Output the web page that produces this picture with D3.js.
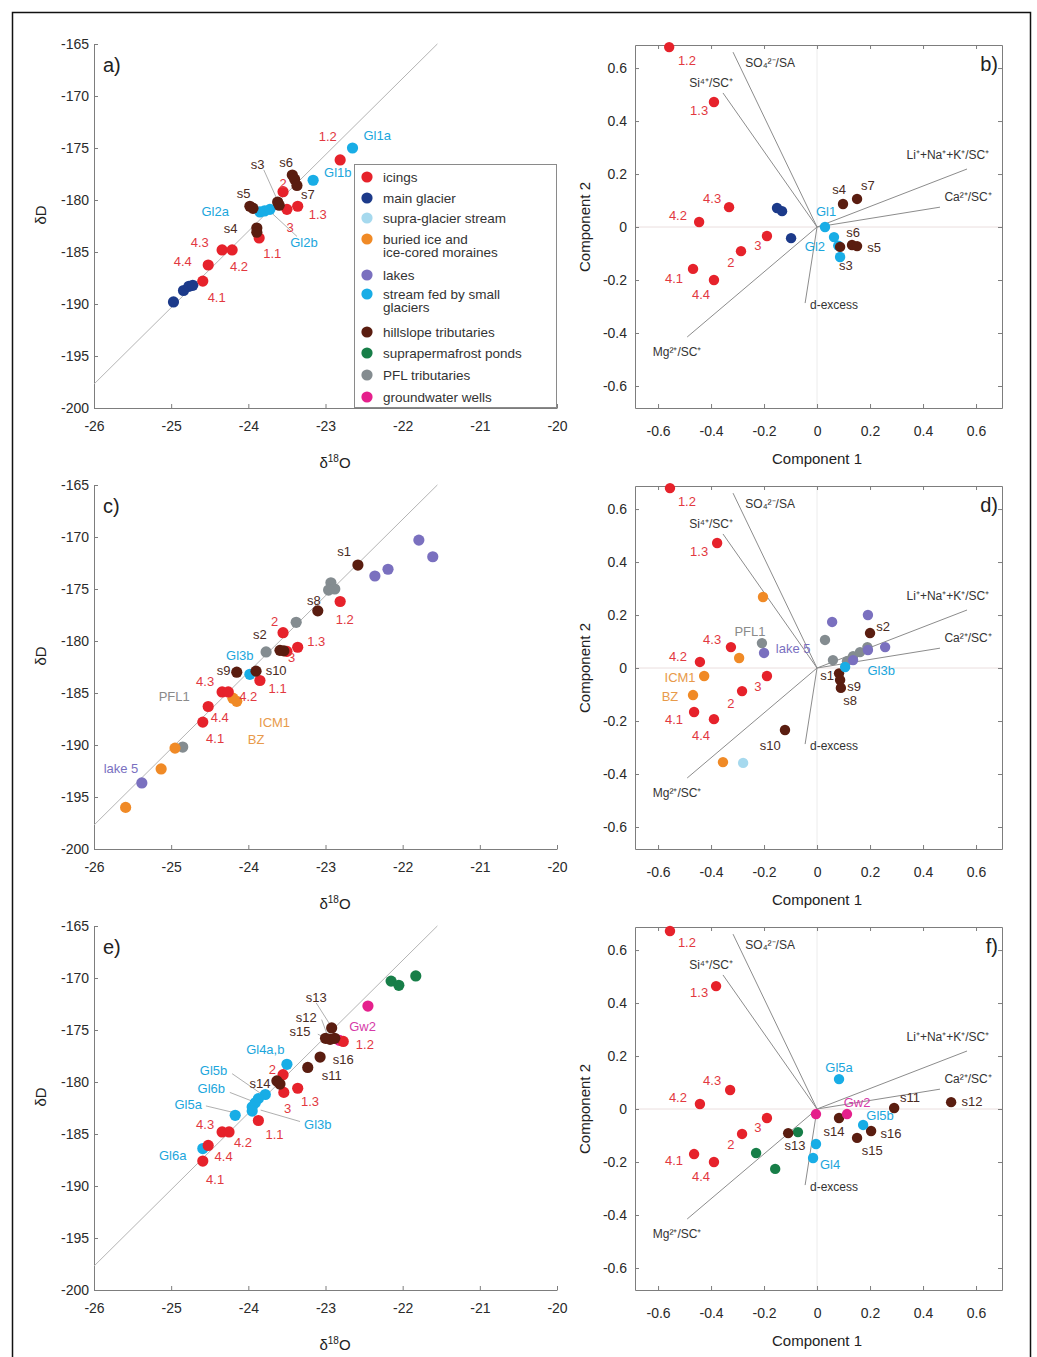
<!DOCTYPE html>
<html>
<head>
<meta charset="utf-8">
<script src="https://cdn.jsdelivr.net/npm/d3@7"></script>
<style>
  body { margin: 0; background: #fff; }
  svg { display: block; }
  text { font-family: "Liberation Sans", Arial, sans-serif; }
</style>
</head>
<body>
<svg id="fig" width="1037" height="1357"></svg>
<script>
// ---- categories (legend order) ----
const categories = [
  "icings", "main glacier", "supra-glacier stream",
  "buried ice and\nice-cored moraines", "lakes",
  "stream fed by small\nglaciers", "hillslope tributaries",
  "suprapermafrost ponds", "PFL tributaries", "groundwater wells"
];
const categoryColors = [
  "#e6222b", "#1c3a8a", "#a6d9ee", "#f08a26", "#7a70bf",
  "#18ade6", "#5a1d10", "#177e48", "#848c90", "#e5208c"
];
const labelColors = [
  "#e2383f", "#1c3a8a", "#8ccbe6", "#e89a4a", "#7a70bf",
  "#1ba6dc", "#4a2a22", "#177e48", "#8a8a8a", "#d63aa8"
];

// ---- isotope panels: [category, δ18O, δD] ----
const isoA = [
  [1, -24.97, -189.8], [1, -24.84, -188.7], [1, -24.77, -188.3], [1, -24.72, -188.2],
  [5, -22.65, -175.0], [5, -23.16, -178.1], [5, -23.85, -181.15], [5, -23.79, -181.05], [5, -23.72, -180.9],
  [0, -22.81, -176.15], [0, -23.36, -180.6], [0, -23.50, -180.9], [0, -23.55, -179.2],
  [0, -23.86, -183.65], [0, -24.34, -184.8], [0, -24.21, -184.8], [0, -24.52, -186.25], [0, -24.59, -187.8],
  [6, -23.43, -177.6], [6, -23.40, -178.0], [6, -23.37, -178.6], [6, -23.62, -180.2], [6, -23.60, -180.5],
  [6, -23.98, -180.6], [6, -23.94, -180.8], [6, -23.89, -182.7], [6, -23.89, -183.1]
];
const isoC = [
  [8, -22.93, -174.4], [8, -22.88, -175.0], [8, -22.96, -175.1], [8, -23.38, -178.2],
  [8, -23.77, -181.05], [8, -24.85, -190.2],
  [4, -21.79, -170.3], [4, -21.61, -171.9], [4, -22.19, -173.1], [4, -22.36, -173.75], [4, -25.38, -193.65],
  [3, -24.20, -185.5], [3, -24.15, -185.8], [3, -24.95, -190.3], [3, -25.13, -192.3], [3, -25.59, -196.0],
  [5, -23.98, -183.2],
  [0, -22.81, -176.2], [0, -23.55, -179.2], [0, -23.36, -180.6], [0, -23.50, -181.0], [0, -23.85, -183.8],
  [0, -24.34, -184.9], [0, -24.26, -184.9], [0, -24.52, -186.3], [0, -24.59, -187.8],
  [6, -22.58, -172.7], [6, -23.10, -177.1], [6, -23.59, -180.9], [6, -23.54, -180.95],
  [6, -24.15, -183.0], [6, -23.90, -182.9]
];
const isoE = [
  [7, -22.15, -170.3], [7, -22.05, -170.7], [7, -21.83, -169.8],
  [9, -22.45, -172.7], [9, -22.82, -176.0],
  [5, -23.50, -178.3], [5, -23.78, -181.2], [5, -23.87, -181.6], [5, -23.91, -182.0],
  [5, -23.95, -182.4], [5, -23.95, -182.8], [5, -24.17, -183.2], [5, -24.59, -186.4],
  [0, -22.77, -176.1], [0, -23.55, -179.3], [0, -23.36, -180.6], [0, -23.54, -181.0], [0, -23.87, -183.7],
  [0, -24.34, -184.8], [0, -24.25, -184.8], [0, -24.52, -186.1], [0, -24.59, -187.6],
  [6, -22.92, -174.8], [6, -23.00, -175.8], [6, -22.94, -175.9], [6, -22.88, -175.8],
  [6, -23.07, -177.6], [6, -23.23, -178.6], [6, -23.63, -179.9], [6, -23.59, -180.2]
];

// point labels: [text, category, δ18O, δD]
const isoLabelsA = [
  ["1.2", 0, -22.97, -173.94], ["Gl1a", 5, -22.33, -173.75], ["Gl1b", 5, -22.84, -177.4],
  ["s3", 6, -23.88, -176.63], ["s6", 6, -23.51, -176.35], ["2", 0, -23.55, -178.4],
  ["s5", 6, -24.06, -179.33], ["s7", 6, -23.23, -179.5], ["Gl2a", 5, -24.43, -181.15],
  ["1.3", 0, -23.10, -181.35], ["3", 0, -23.46, -182.6], ["s4", 6, -24.23, -182.7],
  ["Gl2b", 5, -23.28, -184.04], ["4.3", 0, -24.63, -184.04], ["1.1", 0, -23.69, -185.1],
  ["4.4", 0, -24.85, -185.96], ["4.2", 0, -24.12, -186.44], ["4.1", 0, -24.41, -189.42]
];
const isoLabelsC = [
  ["s1", 6, -22.76, -171.35], ["s8", 6, -23.15, -176.06], ["1.2", 0, -22.75, -177.98],
  ["2", 0, -23.66, -178.17], ["s2", 6, -23.85, -179.33], ["1.3", 0, -23.12, -180.0],
  ["3", 0, -23.44, -181.63], ["Gl3b", 5, -24.11, -181.35], ["s9", 6, -24.32, -182.79],
  ["s10", 6, -23.64, -182.79], ["1.1", 0, -23.62, -184.52], ["4.3", 0, -24.56, -183.85],
  ["4.2", 0, -24.00, -185.38], ["PFL1", 8, -24.96, -185.29], ["4.4", 0, -24.37, -187.4],
  ["ICM1", 3, -23.66, -187.8], ["4.1", 0, -24.43, -189.33], ["BZ", 3, -23.90, -189.5],
  ["lake 5", 4, -25.65, -192.3]
];
const isoLabelsE = [
  ["s13", 6, -23.12, -171.92], ["s12", 6, -23.25, -173.75], ["s15", 6, -23.33, -175.19],
  ["Gw2", 9, -22.52, -174.71], ["1.2", 0, -22.49, -176.35], ["Gl4a,b", 5, -23.78, -176.92],
  ["s16", 6, -22.77, -177.79], ["2", 0, -23.69, -178.75], ["Gl5b", 5, -24.45, -178.85],
  ["s11", 6, -22.92, -179.33], ["s14", 6, -23.85, -180.1], ["Gl6b", 5, -24.48, -180.67],
  ["1.3", 0, -23.20, -181.83], ["Gl5a", 5, -24.78, -182.12], ["3", 0, -23.49, -182.5],
  ["Gl3b", 5, -23.10, -184.13], ["4.3", 0, -24.56, -184.04], ["1.1", 0, -23.66, -185.0],
  ["4.2", 0, -24.07, -185.77], ["Gl6a", 5, -24.98, -187.02], ["4.4", 0, -24.32, -187.12],
  ["4.1", 0, -24.43, -189.42]
];
// leader lines: [from δ18O, from δD, to δ18O, to δD]
const leadersA = [
  [-23.80, -177.1, -23.63, -179.9],
  [-23.37, -183.5, -23.69, -181.3]
];
const leadersE = [
  [-23.12, -172.4, -22.94, -174.5], [-23.05, -174.0, -22.97, -175.6],
  [-23.10, -175.4, -22.99, -175.8], [-24.21, -179.2, -23.82, -181.2],
  [-24.24, -181.0, -23.93, -181.9], [-24.55, -182.3, -24.21, -182.9],
  [-23.33, -183.8, -23.84, -182.7]
];
// local meteoric water line δD = slope·δ18O + intercept
const lmwlSlope = 7.35, lmwlIntercept = -6.6;
const lmwlRange = [-26, -21.55];

// ---- PCA panels: [category, component 1, component 2] ----
const pcaB = [
  [0, -0.558, 0.679], [0, -0.389, 0.472], [0, -0.332, 0.075], [0, -0.445, 0.019],
  [0, -0.189, -0.034], [0, -0.287, -0.091], [0, -0.468, -0.158], [0, -0.389, -0.2],
  [1, -0.151, 0.072], [1, -0.132, 0.060], [1, -0.098, -0.042],
  [5, 0.030, 0.000], [5, 0.064, -0.038], [5, 0.080, -0.070], [5, 0.087, -0.113],
  [6, 0.098, 0.087], [6, 0.151, 0.106], [6, 0.087, -0.075], [6, 0.132, -0.068], [6, 0.151, -0.072]
];
const pcaD = [
  [8, -0.208, 0.094], [8, 0.030, 0.106], [8, 0.060, 0.030], [8, 0.113, 0.026],
  [8, 0.136, 0.045], [8, 0.162, 0.060], [8, 0.190, 0.079],
  [4, -0.200, 0.057], [4, 0.057, 0.174], [4, 0.192, 0.200], [4, 0.257, 0.079],
  [4, 0.192, 0.068], [4, 0.136, 0.030],
  [3, -0.204, 0.268], [3, -0.294, 0.038], [3, -0.426, -0.030], [3, -0.468, -0.102], [3, -0.355, -0.355],
  [2, -0.279, -0.358],
  [0, -0.555, 0.679], [0, -0.377, 0.472], [0, -0.325, 0.079], [0, -0.442, 0.023],
  [0, -0.189, -0.030], [0, -0.283, -0.087], [0, -0.464, -0.166], [0, -0.389, -0.193],
  [6, 0.200, 0.132], [6, -0.121, -0.234], [6, 0.083, -0.020], [6, 0.087, -0.045], [6, 0.090, -0.075],
  [5, 0.106, 0.004]
];
const pcaF = [
  [0, -0.555, 0.672], [0, -0.381, 0.464], [0, -0.328, 0.072], [0, -0.442, 0.019],
  [0, -0.189, -0.034], [0, -0.283, -0.094], [0, -0.464, -0.170], [0, -0.389, -0.200],
  [7, -0.072, -0.087], [7, -0.230, -0.166], [7, -0.158, -0.226],
  [6, -0.109, -0.091], [6, 0.083, -0.034], [6, 0.291, 0.004], [6, 0.506, 0.026],
  [6, 0.204, -0.083], [6, 0.151, -0.109],
  [5, 0.083, 0.113], [5, 0.174, -0.060], [5, -0.004, -0.132], [5, -0.015, -0.185],
  [9, -0.004, -0.019], [9, 0.113, -0.019]
];
const pcaLabelsIcings = [
  ["1.2", 0, -0.491, 0.630], ["1.3", 0, -0.445, 0.438], ["4.3", 0, -0.396, 0.106],
  ["4.2", 0, -0.525, 0.045], ["3", 0, -0.223, -0.068], ["2", 0, -0.325, -0.132],
  ["4.1", 0, -0.540, -0.196], ["4.4", 0, -0.438, -0.253]
];
const pcaLabelsB = [
  ["s4", 6, 0.083, 0.140], ["s7", 6, 0.192, 0.158], ["Gl1", 5, 0.034, 0.060],
  ["Gl2", 5, -0.008, -0.075], ["s6", 6, 0.136, -0.019], ["s5", 6, 0.215, -0.079],
  ["s3", 6, 0.109, -0.147]
];
const pcaLabelsD = [
  ["PFL1", 8, -0.253, 0.136], ["lake 5", 4, -0.090, 0.075], ["ICM1", 3, -0.517, -0.034],
  ["BZ", 3, -0.555, -0.106], ["s10", 6, -0.177, -0.291], ["s2", 6, 0.249, 0.155],
  ["Gl3b", 5, 0.242, -0.008], ["s1", 6, 0.038, -0.030], ["s9", 6, 0.140, -0.068],
  ["s8", 6, 0.125, -0.121]
];
const pcaLabelsF = [
  ["Gl5a", 5, 0.083, 0.155], ["Gw2", 9, 0.151, 0.026], ["s11", 6, 0.351, 0.042],
  ["s12", 6, 0.585, 0.030], ["Gl5b", 5, 0.238, -0.023], ["s14", 6, 0.064, -0.083],
  ["s16", 6, 0.279, -0.094], ["s13", 6, -0.083, -0.136], ["s15", 6, 0.208, -0.158],
  ["Gl4", 5, 0.049, -0.211]
];
// loading vectors: names, tip coordinates, label positions
const loadingNames = ["SO₄²⁻/SA", "Si⁴⁺/SC⁺", "Li⁺+Na⁺+K⁺/SC⁺", "Ca²⁺/SC⁺", "Mg²⁺/SC⁺", "d-excess"];
const loadingEnds = [[-0.317, 0.660], [-0.355, 0.506], [0.566, 0.219], [0.464, 0.075], [-0.490, -0.415], [-0.045, -0.287]];
const loadingLabelPos = [[-0.177, 0.619], [-0.400, 0.543], [0.494, 0.272], [0.570, 0.113], [-0.528, -0.472], [0.064, -0.294]];

const isoTicksX = [-26, -25, -24, -23, -22, -21, -20];
const isoTicksY = [-165, -170, -175, -180, -185, -190, -195, -200];
const pcaTicks = [-0.6, -0.4, -0.2, 0, 0.2, 0.4, 0.6];

// ---- drawing ----
const svg = d3.select("#fig");
svg.append("rect").attr("x", 12.5).attr("y", 12.5).attr("width", 1018).attr("height", 1360)
  .attr("fill", "none").attr("stroke", "#111").attr("stroke-width", 1.5);

const axisColor = "#7d7d7d", tickText = "#2a2a2a";
const fmt = d => String(d);

function styleAxis(g) {
  g.select(".domain").attr("stroke", axisColor);
  g.selectAll(".tick line").attr("stroke", axisColor);
  g.selectAll(".tick text").attr("fill", tickText).style("font-size", "14px")
    .style("font-family", '"Liberation Sans", Arial, sans-serif');
}

function drawLabels(g, x, y, labels, size) {
  g.selectAll(null).data(labels).join("text")
    .attr("x", d => x(d[2])).attr("y", d => y(d[3]))
    .attr("text-anchor", "middle").attr("dominant-baseline", "central")
    .attr("fill", d => labelColors[d[1]])
    .style("font-size", size + "px")
    .text(d => d[0]);
}

function drawPoints(g, x, y, pts, r) {
  g.selectAll(null).data(pts).join("circle")
    .attr("cx", d => x(d[1])).attr("cy", d => y(d[2])).attr("r", r)
    .attr("fill", d => categoryColors[d[0]]);
}

function isoPanel(off, pts, labels, leaders, letter) {
  const g = svg.append("g");
  const x = d3.scaleLinear().domain([-26, -20]).range([94, 557]);
  const y = d3.scaleLinear().domain([-200, -165]).range([408 + off, 44 + off]);

  g.append("g").attr("transform", `translate(0,${408 + off})`)
    .call(d3.axisBottom(x).tickValues(isoTicksX).tickFormat(fmt).tickSize(-4).tickPadding(13).tickSizeOuter(0))
    .call(styleAxis);
  g.append("g").attr("transform", "translate(94,0)")
    .call(d3.axisLeft(y).tickValues(isoTicksY).tickFormat(fmt).tickSize(-4).tickPadding(5).tickSizeOuter(0))
    .call(styleAxis);

  g.append("line")
    .attr("x1", x(lmwlRange[0])).attr("y1", y(lmwlSlope * lmwlRange[0] + lmwlIntercept))
    .attr("x2", x(lmwlRange[1])).attr("y2", y(lmwlSlope * lmwlRange[1] + lmwlIntercept))
    .attr("stroke", "#b4b4b4").attr("stroke-width", 1);

  g.selectAll(null).data(leaders).join("line")
    .attr("x1", d => x(d[0])).attr("y1", d => y(d[1]))
    .attr("x2", d => x(d[2])).attr("y2", d => y(d[3]))
    .attr("stroke", "#9a9a9a").attr("stroke-width", 0.8);

  drawPoints(g, x, y, pts, 5.6);
  drawLabels(g, x, y, labels, 13);

  g.append("text").attr("x", 103).attr("y", 72 + off).style("font-size", "20px").attr("fill", "#222").text(letter);

  g.append("text").attr("transform", `translate(46,${215 + off}) rotate(-90)`)
    .attr("text-anchor", "middle").style("font-size", "15px").attr("fill", "#222").text("δD");
  const xl = g.append("text").attr("x", 335).attr("y", 468 + off).attr("text-anchor", "middle")
    .style("font-size", "15px").attr("fill", "#222");
  xl.append("tspan").text("δ");
  xl.append("tspan").attr("dy", -6).style("font-size", "10px").text("18");
  xl.append("tspan").attr("dy", 6).text("O");
  return { g, x, y };
}

function pcaPanel(off, pts, labels, letter) {
  const g = svg.append("g");
  const x = d3.scaleLinear().domain([-0.687, 0.698]).range([635, 1002]);
  const y = d3.scaleLinear().domain([-0.683, 0.687]).range([408 + off, 45 + off]);

  // zero reference lines
  g.append("line").attr("x1", 635).attr("x2", 1002).attr("y1", y(0)).attr("y2", y(0))
    .attr("stroke", "#eadede").attr("stroke-width", 1);
  g.append("line").attr("x1", x(0)).attr("x2", x(0)).attr("y1", 45 + off).attr("y2", 408 + off)
    .attr("stroke", "#ececec").attr("stroke-width", 1);

  g.append("g").attr("transform", `translate(0,${408 + off})`)
    .call(d3.axisBottom(x).tickValues(pcaTicks).tickFormat(fmt).tickSize(-4).tickPadding(18).tickSizeOuter(0))
    .call(styleAxis);
  g.append("g").attr("transform", `translate(0,${45 + off})`)
    .call(d3.axisTop(x).tickValues(pcaTicks).tickFormat("").tickSize(-4).tickSizeOuter(0))
    .call(styleAxis);
  g.append("g").attr("transform", "translate(635,0)")
    .call(d3.axisLeft(y).tickValues(pcaTicks).tickFormat(fmt).tickSize(-4).tickPadding(8).tickSizeOuter(0))
    .call(styleAxis);
  g.append("g").attr("transform", "translate(1002,0)")
    .call(d3.axisRight(y).tickValues(pcaTicks).tickFormat("").tickSize(-4).tickSizeOuter(0))
    .call(styleAxis);

  // loading vectors
  g.selectAll(null).data(loadingEnds).join("line")
    .attr("x1", x(0)).attr("y1", y(0))
    .attr("x2", d => x(d[0])).attr("y2", d => y(d[1]))
    .attr("stroke", "#8c8c8c").attr("stroke-width", 1);
  g.selectAll(null).data(loadingNames).join("text")
    .attr("x", (d, i) => x(loadingLabelPos[i][0])).attr("y", (d, i) => y(loadingLabelPos[i][1]))
    .attr("text-anchor", "middle").attr("dominant-baseline", "central")
    .attr("fill", "#333").style("font-size", "12px").text(d => d);

  drawPoints(g, x, y, pts, 5.2);
  drawLabels(g, x, y, pcaLabelsIcings, 13);
  drawLabels(g, x, y, labels, 13);

  g.append("text").attr("x", 998).attr("y", 71 + off).attr("text-anchor", "end")
    .style("font-size", "20px").attr("fill", "#222").text(letter);
  g.append("text").attr("transform", `translate(590,${227 + off}) rotate(-90)`)
    .attr("text-anchor", "middle").style("font-size", "15px").attr("fill", "#222").text("Component 2");
  g.append("text").attr("x", 817).attr("y", 464 + off).attr("text-anchor", "middle")
    .style("font-size", "15px").attr("fill", "#222").text("Component 1");
}

const rowStep = 441;
isoPanel(0, isoA, isoLabelsA, leadersA, "a)");
pcaPanel(0, pcaB, pcaLabelsB, "b)");
isoPanel(rowStep, isoC, isoLabelsC, [], "c)");
pcaPanel(rowStep, pcaD, pcaLabelsD, "d)");
isoPanel(2 * rowStep, isoE, isoLabelsE, leadersE, "e)");
pcaPanel(2 * rowStep, pcaF, pcaLabelsF, "f)");

// legend for panel a
const legend = svg.append("g");
legend.append("rect").attr("x", 354.5).attr("y", 164.5).attr("width", 202).attr("height", 243)
  .attr("fill", "#fff").attr("stroke", "#8a8a8a");
const legendY = [177, 198, 218, 239, 275, 294, 332, 353, 375, 397];
categories.forEach((name, i) => {
  legend.append("circle").attr("cx", 367).attr("cy", legendY[i]).attr("r", 5.6).attr("fill", categoryColors[i]);
  name.split("\n").forEach((line, j) => {
    legend.append("text").attr("x", 383).attr("y", legendY[i] + j * 13.5)
      .attr("dominant-baseline", "central")
      .style("font-size", "13.5px").attr("fill", "#333").text(line);
  });
});
</script>
</body>
</html>
